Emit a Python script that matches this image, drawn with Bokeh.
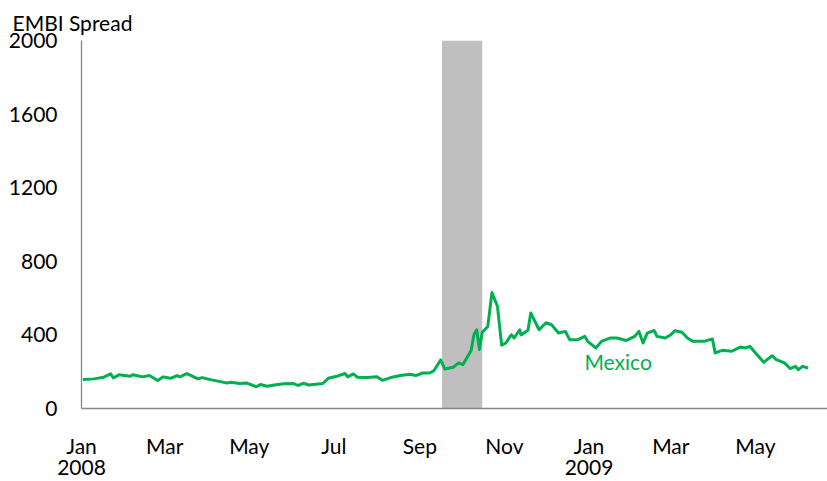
import pandas as pd
from datetime import datetime, timedelta
from bokeh.plotting import figure
from bokeh.models import Range1d, FixedTicker, BoxAnnotation, Label
from bokeh.embed import file_html
from bokeh.resources import INLINE

dates = [
    "2008-01-02", "2008-01-10", "2008-01-17", "2008-01-22", "2008-01-24", "2008-01-28",
    "2008-02-05", "2008-02-07", "2008-02-14", "2008-02-19", "2008-02-25", "2008-02-29",
    "2008-03-05", "2008-03-10", "2008-03-12", "2008-03-17", "2008-03-25", "2008-03-28",
    "2008-04-03", "2008-04-10", "2008-04-15", "2008-04-18", "2008-04-24", "2008-04-29",
    "2008-05-06", "2008-05-09", "2008-05-14", "2008-05-19", "2008-05-26",
    "2008-06-02", "2008-06-05", "2008-06-09", "2008-06-13", "2008-06-23", "2008-06-27",
    "2008-07-03", "2008-07-09", "2008-07-11", "2008-07-15", "2008-07-18", "2008-07-25",
    "2008-08-01", "2008-08-05", "2008-08-11", "2008-08-18", "2008-08-25", "2008-08-29",
    "2008-09-03", "2008-09-08", "2008-09-11", "2008-09-16", "2008-09-19", "2008-09-25",
    "2008-09-29", "2008-10-02", "2008-10-08", "2008-10-10", "2008-10-12", "2008-10-14",
    "2008-10-16", "2008-10-20", "2008-10-23", "2008-10-27", "2008-10-30",
    "2008-11-02", "2008-11-06", "2008-11-08", "2008-11-12", "2008-11-13", "2008-11-18",
    "2008-11-20", "2008-11-26", "2008-12-01", "2008-12-05", "2008-12-10", "2008-12-15",
    "2008-12-18", "2008-12-24", "2008-12-29", "2008-12-31",
    "2009-01-06", "2009-01-10", "2009-01-16", "2009-01-21", "2009-01-28",
    "2009-02-03", "2009-02-06", "2009-02-09", "2009-02-12", "2009-02-17", "2009-02-19",
    "2009-02-25", "2009-03-01", "2009-03-04", "2009-03-09", "2009-03-13", "2009-03-17",
    "2009-03-25", "2009-03-31", "2009-04-02", "2009-04-07", "2009-04-14", "2009-04-20",
    "2009-04-24", "2009-04-27", "2009-04-30", "2009-05-07", "2009-05-13", "2009-05-16",
    "2009-05-22", "2009-05-26", "2009-05-30", "2009-06-01", "2009-06-04", "2009-06-08",
]
mexico = [
    157, 161, 170, 188, 166, 183,
    175, 183, 172, 179, 152, 172,
    164, 179, 172, 190, 161, 168,
    157, 146, 139, 143, 136, 139,
    118, 130, 121, 128, 134,
    136, 125, 137, 128, 136, 164,
    175, 190, 172, 188, 170, 168,
    172, 153, 168, 179, 186, 179,
    193, 193, 204, 264, 215, 224,
    248, 238, 315, 401, 428, 320,
    414, 446, 630, 554, 344,
    356, 401, 383, 428, 400, 425,
    519, 428, 466, 455, 410, 419,
    374, 374, 392, 365,
    329, 365, 383, 383, 370,
    392, 419, 356, 410, 424, 392,
    383, 401, 423, 414, 383, 365,
    365, 378, 302, 316, 311, 334,
    329, 338, 311, 251, 287, 266,
    248, 217, 229, 211, 229, 220,
]

tick_dates = ["2008-01-01", "2008-03-01", "2008-05-01", "2008-07-01", "2008-09-01",
              "2008-11-01", "2009-01-01", "2009-03-01", "2009-05-01"]
tick_labels = ["Jan\n2008", "Mar", "May", "Jul", "Sep", "Nov", "Jan\n2009", "Mar", "May"]
y_ticks = [0, 400, 800, 1200, 1600, 2000]

crisis_start = "2008-09-17"
crisis_end = "2008-10-16"

GREEN = "#00B050"
FONT = "Lato"

x = pd.to_datetime(dates)
x0 = datetime(2008, 1, 1)
x1 = x0 + timedelta(days=538)

p = figure(width=827, height=481, x_axis_type="datetime",
           x_range=Range1d(x0, x1), y_range=Range1d(0, 2000),
           output_backend="svg", toolbar_location=None,
           min_border_left=81, min_border_right=0, min_border_top=40, min_border_bottom=40)

p.outline_line_color = None
p.grid.visible = False

p.title.text = "EMBI Spread"
p.title.align = "left"
p.title.offset = -69
p.title.text_font = FONT
p.title.text_font_style = "normal"
p.title.text_font_size = "21px"
p.title.text_color = "#000000"
p.title.standoff = 11

p.add_layout(BoxAnnotation(left=pd.Timestamp(crisis_start), right=pd.Timestamp(crisis_end),
                           fill_color="#BFBFBF", fill_alpha=1.0, line_color=None, level="underlay"))

p.line(x, mexico, line_color=GREEN, line_width=3, line_join="round")

p.add_layout(Label(x=pd.Timestamp("2009-01-22"), y=255, text="Mexico", text_color=GREEN,
                   text_font=FONT, text_font_size="21px", text_align="center",
                   text_baseline="middle"))

tick_ms = [pd.Timestamp(d).value / 1e6 for d in tick_dates]
p.xaxis.ticker = FixedTicker(ticks=tick_ms)
p.xaxis.major_label_overrides = {t: l for t, l in zip(tick_ms, tick_labels)}
p.yaxis.ticker = FixedTicker(ticks=y_ticks)

for ax in (p.xaxis, p.yaxis):
    ax.axis_line_color = "#868686"
    ax.axis_line_width = 1.3
    ax.major_tick_line_color = None
    ax.minor_tick_line_color = None
    ax.major_tick_out = 0
    ax.major_tick_in = 0
    ax.major_label_text_font = FONT
    ax.major_label_text_font_size = "21px"
    ax.major_label_text_color = "#000000"

p.yaxis.major_label_standoff = 24
p.xaxis.major_label_standoff = 24
p.xaxis.major_label_text_line_height = 0.85

open("out.html", "w").write(file_html(p, INLINE))
